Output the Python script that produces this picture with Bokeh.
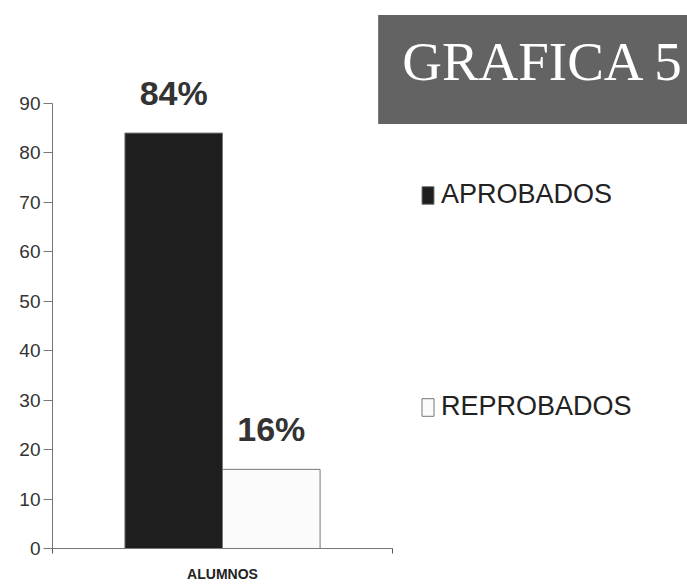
from bokeh.plotting import figure
from bokeh.models import ColumnDataSource, Range1d, FixedTicker, Legend, LegendItem, Label
from bokeh.transform import dodge
from bokeh.core.properties import value
from bokeh.embed import file_html
from bokeh.resources import INLINE

# ---- data ----
categories = ["ALUMNOS"]
series = ["APROBADOS", "REPROBADOS"]
values = [84, 16]
pct_labels = ["84%", "16%"]
y_ticks = [0, 10, 20, 30, 40, 50, 60, 70, 80, 90]
title_text = "GRAFICA 5"

# ---- styles ----
fill_colors = ["#1e1e1e", "#fbfbfb"]
offsets = [-0.1435, 0.1435]
bar_width = 0.287
FONT = "Liberation Sans"

# category slots: category i occupies [i, i+1] on the x scale, centred at i+0.5
cat_pos = [i + 0.5 for i in range(len(categories))]
n_cat = len(categories)

p = figure(width=687, height=585,
           x_range=Range1d(0, 1.8676),
           y_range=Range1d(0, 110.8),
           output_backend="svg", toolbar_location=None,
           min_border_left=52, min_border_right=0,
           min_border_top=0, min_border_bottom=37)
p.outline_line_color = None
p.xgrid.visible = False
p.ygrid.visible = False

items = []
for i, s in enumerate(series):
    src = ColumnDataSource(dict(pos=[cat_pos[0]], val=[values[i]], lab=[pct_labels[i]]))
    xs = dodge("pos", offsets[i])
    r = p.vbar(x=xs, top="val", width=bar_width, source=src,
               fill_color=fill_colors[i], line_color="#777777", line_width=1)
    p.text(x=xs, y="val", text="lab", source=src, text_align="center",
           text_baseline="alphabetic", y_offset=-40,
           text_font=value(FONT), text_font_size="34px", text_font_style="bold",
           text_color="#333333")
    items.append(LegendItem(label=s, renderers=[r]))

legend = Legend(items=items, location=(368, 126), orientation="vertical",
                border_line_color=None, background_fill_alpha=0,
                padding=0, margin=0, spacing=181,
                glyph_width=15, glyph_height=22, label_height=22,
                label_standoff=6, label_text_font=FONT,
                label_text_font_size="27px", label_text_color="#222222")
p.add_layout(legend)

title = Label(x=489, y=479, x_units="screen", y_units="screen", text=title_text,
              text_font="Liberation Serif", text_font_size="55px",
              text_color="white", text_align="center", text_baseline="middle",
              background_fill_color="#636363",
              padding=dict(left=24, right=20, top=16, bottom=32))
p.add_layout(title)

yax = p.yaxis[0]
yax.ticker = FixedTicker(ticks=y_ticks)
yax.bounds = (0, 90)
yax.axis_line_color = "#777777"
yax.major_tick_line_color = "#777777"
yax.major_tick_out = 9
yax.major_tick_in = 0
yax.minor_tick_out = 0
yax.minor_tick_in = 0
yax.major_label_standoff = 3
yax.major_label_text_font = FONT
yax.major_label_text_font_size = "19px"
yax.major_label_text_color = "#333333"

xax = p.xaxis[0]
xax.ticker = FixedTicker(ticks=cat_pos, minor_ticks=[float(i) for i in range(n_cat + 1)])
xax.major_label_overrides = {cat_pos[i]: categories[i] for i in range(n_cat)}
xax.bounds = (0, n_cat)
xax.axis_line_color = "#777777"
xax.major_tick_out = 0
xax.major_tick_in = 0
xax.minor_tick_line_color = "#555555"
xax.minor_tick_out = 5
xax.minor_tick_in = 0
xax.major_label_standoff = 12
xax.major_label_text_font = FONT
xax.major_label_text_font_size = "14px"
xax.major_label_text_font_style = "bold"
xax.major_label_text_color = "#222222"

open("out.html", "w").write(file_html(p, INLINE))
